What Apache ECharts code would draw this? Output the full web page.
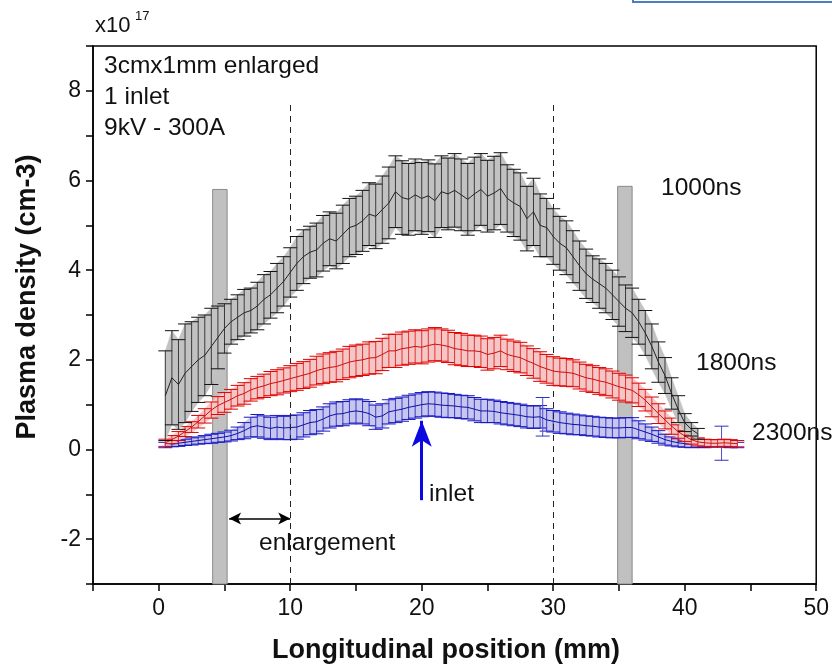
<!DOCTYPE html>
<html>
<head>
<meta charset="utf-8">
<script src="https://cdn.jsdelivr.net/npm/echarts@6/dist/echarts.min.js"></script>
<style>
  html, body { margin: 0; padding: 0; background: #fff; }
  #chart { width: 832px; height: 671px; }
</style>
</head>
<body>
<div id="chart"></div>
<script>
// sample positions (mm), shared by the three curves
var positions = [
  0.5, 1, 1.5, 2, 2.5, 3, 3.5, 4, 4.5, 5, 5.5, 6, 6.5, 7, 7.5, 8, 8.5, 9, 9.5, 10,
  10.5, 11, 11.5, 12, 12.5, 13, 13.5, 14, 14.5, 15, 15.5, 16, 16.5, 17, 17.5, 18, 18.5, 19, 19.5, 20,
  20.5, 21, 21.5, 22, 22.5, 23, 23.5, 24, 24.5, 25, 25.5, 26, 26.5, 27, 27.5, 28, 28.5, 29, 29.5, 30,
  30.5, 31, 31.5, 32, 32.5, 33, 33.5, 34, 34.5, 35, 35.5, 36, 36.5, 37, 37.5, 38, 38.5, 39, 39.5, 40,
  40.5, 41, 41.5, 42, 42.5, 43, 43.5, 44
];

// 1000ns, x1e17 cm-3
var density1000 = [
  1.2, 1.6, 1.45, 1.7, 1.85, 2.0, 2.1, 2.3, 2.5, 2.7, 2.85, 2.95, 3.05, 3.1, 3.2, 3.35, 3.45, 3.6, 3.75, 3.95,
  4.15, 4.3, 4.4, 4.45, 4.6, 4.7, 4.65, 4.8, 4.95, 5.0, 5.1, 5.25, 5.2, 5.35, 5.5, 5.75, 5.62, 5.58, 5.68, 5.6,
  5.66, 5.55, 5.75, 5.7, 5.78, 5.68, 5.58, 5.7, 5.8, 5.65, 5.72, 5.82, 5.6, 5.5, 5.42, 5.15, 5.3, 5.0, 4.95, 4.75,
  4.6, 4.5, 4.3, 4.1, 3.92, 3.8, 3.7, 3.6, 3.45, 3.3, 3.15, 3.05, 2.85, 2.6, 2.3, 1.95, 1.65, 1.25, 0.9, 0.6,
  0.45, 0.35
];
var error1000 = [
  1.0, 1.05, 1.0, 1.1, 1.0, 0.95, 0.9, 0.85, 0.7, 0.55, 0.5, 0.5, 0.52, 0.5, 0.53, 0.55, 0.52, 0.55, 0.55, 0.55,
  0.6, 0.6, 0.58, 0.6, 0.62, 0.6, 0.62, 0.65, 0.65, 0.65, 0.68, 0.7, 0.72, 0.75, 0.8, 0.8, 0.82, 0.8, 0.8, 0.8,
  0.8, 0.82, 0.8, 0.8, 0.82, 0.8, 0.8, 0.82, 0.8, 0.8, 0.82, 0.8, 0.75, 0.75, 0.75, 0.72, 0.75, 0.7, 0.65, 0.62,
  0.6, 0.6, 0.58, 0.55, 0.55, 0.52, 0.55, 0.55, 0.55, 0.55, 0.52, 0.55, 0.5, 0.5, 0.5, 0.45, 0.4, 0.35, 0.3, 0.2,
  0.15, 0.12
];

// 1800ns
var density1800 = [
  0.15, 0.22, 0.3, 0.4, 0.5, 0.62, 0.75, 0.88, 0.98, 1.05, 1.12, 1.2, 1.25, 1.33, 1.38, 1.42, 1.47, 1.5, 1.54, 1.58,
  1.62, 1.66, 1.7, 1.76, 1.8, 1.83, 1.85, 1.9, 1.95, 1.98, 2.0, 2.04, 2.05, 2.12, 2.2, 2.2, 2.25, 2.27, 2.3, 2.28,
  2.32, 2.35, 2.33, 2.3, 2.25, 2.23, 2.2, 2.2, 2.18, 2.12, 2.15, 2.2, 2.12, 2.08, 2.05, 1.98, 1.92, 1.85, 1.8, 1.75,
  1.73, 1.72, 1.7, 1.65, 1.6, 1.57, 1.53, 1.5, 1.45, 1.4, 1.36, 1.32, 1.22, 1.1, 0.95, 0.8, 0.66, 0.52, 0.4, 0.3,
  0.22, 0.17, 0.15, 0.14, 0.14, 0.15, 0.14, 0.13
];
var error1800 = [
  0.08, 0.09, 0.1, 0.11, 0.12, 0.14, 0.16, 0.18, 0.2, 0.22, 0.22, 0.23, 0.24, 0.25, 0.25, 0.26, 0.27, 0.28, 0.28, 0.29,
  0.3, 0.3, 0.31, 0.32, 0.33, 0.33, 0.34, 0.34, 0.35, 0.35, 0.35, 0.36, 0.36, 0.36, 0.37, 0.37, 0.37, 0.37, 0.37, 0.37,
  0.37, 0.37, 0.36, 0.36, 0.36, 0.36, 0.35, 0.35, 0.35, 0.35, 0.35, 0.35, 0.34, 0.34, 0.34, 0.33, 0.33, 0.33, 0.32, 0.32,
  0.31, 0.31, 0.3, 0.3, 0.3, 0.3, 0.3, 0.3, 0.3, 0.3, 0.3, 0.28, 0.26, 0.24, 0.22, 0.22, 0.2, 0.18, 0.15, 0.12,
  0.1, 0.09, 0.08, 0.08, 0.08, 0.08, 0.08, 0.07
];

// 2300ns
var density2300 = [
  0.1, 0.12, 0.14, 0.16, 0.18, 0.2, 0.22, 0.24, 0.26, 0.28, 0.31, 0.36, 0.42, 0.5, 0.53, 0.5, 0.47, 0.5, 0.48, 0.49,
  0.5, 0.55, 0.6, 0.62, 0.68, 0.75, 0.79, 0.8, 0.84, 0.86, 0.84, 0.8, 0.72, 0.75, 0.84, 0.87, 0.9, 0.94, 0.97, 1.0,
  1.02, 1.01, 0.99, 0.98, 0.97, 0.95, 0.94, 0.9, 0.86, 0.86, 0.85, 0.82, 0.8, 0.78, 0.76, 0.73, 0.72, 0.73, 0.66, 0.63,
  0.6, 0.58, 0.56, 0.55, 0.53, 0.52, 0.5, 0.49, 0.48, 0.48, 0.49, 0.49, 0.44, 0.39, 0.34, 0.28, 0.22, 0.18, 0.15, 0.13,
  0.12, 0.12, 0.11, 0.12, 0.14, 0.12, 0.11, 0.1
];
var error2300 = [
  0.06, 0.06, 0.07, 0.07, 0.08, 0.08, 0.09, 0.1, 0.1, 0.11, 0.12, 0.14, 0.18, 0.22, 0.25, 0.25, 0.25, 0.26, 0.26, 0.27,
  0.27, 0.27, 0.27, 0.27, 0.27, 0.27, 0.27, 0.27, 0.27, 0.27, 0.27, 0.27, 0.27, 0.27, 0.27, 0.27, 0.27, 0.27, 0.27, 0.27,
  0.27, 0.27, 0.27, 0.27, 0.26, 0.26, 0.26, 0.26, 0.26, 0.26, 0.25, 0.25, 0.25, 0.25, 0.25, 0.25, 0.25, 0.25, 0.25, 0.24,
  0.24, 0.23, 0.23, 0.22, 0.22, 0.22, 0.22, 0.22, 0.22, 0.22, 0.22, 0.22, 0.2, 0.18, 0.16, 0.14, 0.12, 0.1, 0.09, 0.08,
  0.08, 0.07, 0.07, 0.07, 0.07, 0.07, 0.07, 0.06
];
// two isolated 2300ns points with large error: [position, density, error]
var outliers2300 = [[29.2, 0.73, 0.43], [42.8, 0.14, 0.38]];

var xTickLabels = [0, 10, 20, 30, 40, 50];
var yTickLabels = [-2, 0, 2, 4, 6, 8];

var FONT = '"Liberation Sans", Arial, sans-serif';

function pointData(ys, es) {
  return ys.map(function (y, i) { return [positions[i], y, es[i]]; });
}
function bandData(ys, es) {
  var out = [];
  for (var i = 0; i < ys.length - 1; i++) {
    out.push([positions[i], ys[i], es[i], positions[i + 1], ys[i + 1], es[i + 1]]);
  }
  return out;
}
function meanData(ys) {
  return ys.map(function (y, i) { return [positions[i], y]; });
}

function renderBand(fill) {
  return function (params, api) {
    var x0 = api.value(0), y0 = api.value(1), e0 = api.value(2);
    var x1 = api.value(3), y1 = api.value(4), e1 = api.value(5);
    var pts = [
      api.coord([x0, y0 + e0]), api.coord([x1, y1 + e1]),
      api.coord([x1, y1 - e1]), api.coord([x0, y0 - e0])
    ];
    return { type: 'polygon', shape: { points: pts }, style: { fill: fill, stroke: fill, lineWidth: 0.5 } };
  };
}
function renderBars(stroke, cap) {
  return function (params, api) {
    var x = api.value(0), y = api.value(1), e = api.value(2);
    var t = api.coord([x, y + e]), b = api.coord([x, y - e]);
    var hw = 7;
    return {
      type: 'group',
      children: [
        { type: 'line', shape: { x1: t[0], y1: t[1], x2: b[0], y2: b[1] }, style: { stroke: stroke, lineWidth: 1 } },
        { type: 'line', shape: { x1: t[0] - hw, y1: t[1], x2: t[0] + hw, y2: t[1] }, style: { stroke: cap, lineWidth: 1 } },
        { type: 'line', shape: { x1: b[0] - hw, y1: b[1], x2: b[0] + hw, y2: b[1] }, style: { stroke: cap, lineWidth: 1 } }
      ]
    };
  };
}

function curveSeries(name, ys, es, c) {
  return [
    { name: name + ' band', type: 'custom', z: c.z, silent: true, renderItem: renderBand(c.band),
      encode: { x: [0, 3], y: [1, 4] }, data: bandData(ys, es) },
    { name: name + ' bars', type: 'custom', z: c.z + 1, silent: true, renderItem: renderBars(c.bar, c.cap),
      encode: { x: 0, y: 1 }, data: pointData(ys, es) },
    { name: name, type: 'line', z: c.z + 2, silent: true, showSymbol: false, symbol: 'none',
      lineStyle: { color: c.line, width: 1 }, data: meanData(ys) }
  ];
}

var series = []
  .concat(curveSeries('2300ns', density2300, error2300, { z: 2, band: '#c6c6ef', bar: '#3a3ac8', cap: '#1818c0', line: '#1010a0' }))
  .concat(curveSeries('1800ns', density1800, error1800, { z: 5, band: '#f5c6c6', bar: '#e83030', cap: '#e00000', line: '#c81010' }))
  .concat(curveSeries('1000ns', density1000, error1000, { z: 8, band: '#c2c2c2', bar: '#3a3a3a', cap: '#111111', line: '#222222' }));

series.push({
  name: '2300ns outliers', type: 'custom', z: 4, silent: true, renderItem: renderBars('#5050d0', '#3030c8'),
  encode: { x: 0, y: 1 }, data: outliers2300
});

// electrodes, guide lines, arrows
series.push({
  name: 'annotations', type: 'scatter', z: 20, silent: true, symbolSize: 0,
  data: [[-10, -10]],
  markArea: {
    silent: true,
    itemStyle: { color: '#c0c0c0', opacity: 1, borderColor: '#8a8a8a', borderWidth: 1 },
    label: { show: false },
    data: [
      [{ coord: [4.1, -3] }, { coord: [5.2, 5.8] }],
      [{ coord: [34.9, -3] }, { coord: [36.0, 5.87] }]
    ]
  },
  markLine: {
    silent: true,
    animation: false,
    label: { show: false },
    symbol: 'none',
    data: [
      [{ coord: [10, -3], lineStyle: { color: '#222', width: 1, type: [6, 5] } }, { coord: [10, 7.75] }],
      [{ coord: [30, -3], lineStyle: { color: '#222', width: 1, type: [6, 5] } }, { coord: [30, 7.75] }],
      [{ coord: [20, -1.13], symbol: 'none', lineStyle: { color: '#0a0ae0', width: 3, type: 'solid' } },
       { coord: [20, 0.64], symbol: 'arrow', symbolSize: [15, 26] }],
      [{ coord: [5.35, -1.54], symbol: 'arrow', symbolSize: [9, 12], lineStyle: { color: '#000', width: 1.5, type: 'solid' } },
       { coord: [10.0, -1.54], symbol: 'arrow', symbolSize: [9, 12] }]
    ]
  }
});

function textEl(str, x, y, size) {
  return { type: 'text', x: x, y: y, z: 30, silent: true,
    style: { text: str, font: size + 'px ' + FONT, fill: '#111', verticalAlign: 'middle' } };
}

var chart = echarts.init(document.getElementById('chart'), null, { renderer: 'canvas' });
chart.setOption({
  animation: false,
  backgroundColor: '#fff',
  grid: { left: 93, right: 15, top: 46, bottom: 87, show: true, borderColor: '#000', borderWidth: 1.5 },
  xAxis: {
    type: 'value', min: -5, max: 50, interval: 5,
    axisLine: { show: true, onZero: false, lineStyle: { color: '#000', width: 1.5 } },
    axisTick: { show: true, inside: false, length: 7, lineStyle: { color: '#000', width: 1.5 } },
    axisLabel: { fontFamily: FONT, fontSize: 23, color: '#111', margin: 13,
      formatter: function (v) { return xTickLabels.indexOf(v) >= 0 ? String(v) : ''; } },
    splitLine: { show: false }
  },
  yAxis: {
    type: 'value', min: -3, max: 9, interval: 1,
    axisLine: { show: true, onZero: false, lineStyle: { color: '#000', width: 1.5 } },
    axisTick: { show: true, inside: false, length: 7, lineStyle: { color: '#000', width: 1.5 } },
    axisLabel: { fontFamily: FONT, fontSize: 23, color: '#111', margin: 12,
      formatter: function (v) { return yTickLabels.indexOf(v) >= 0 ? String(v) : ''; } },
    splitLine: { show: false }
  },
  series: series,
  graphic: [
    { type: 'text', x: 446, y: 651, z: 30, silent: true,
      style: { text: 'Longitudinal position (mm)', font: 'bold 27px ' + FONT, fill: '#111', align: 'center', verticalAlign: 'middle' } },
    { type: 'text', x: 28, y: 297, z: 30, silent: true, rotation: Math.PI / 2,
      style: { text: 'Plasma density (cm-3)', font: 'bold 27px ' + FONT, fill: '#111', align: 'center', verticalAlign: 'middle' } },
    textEl('x10', 95, 26, 22),
    { type: 'text', x: 135, y: 16, z: 30, silent: true,
      style: { text: '17', font: '13px ' + FONT, fill: '#111', verticalAlign: 'middle' } },
    textEl('3cmx1mm enlarged', 104, 66, 24.5),
    textEl('1 inlet', 104, 97, 24.5),
    textEl('9kV - 300A', 104, 128, 24.5),
    textEl('1000ns', 661, 188, 24.5),
    textEl('1800ns', 696, 363, 24.5),
    textEl('2300ns', 752, 433, 24.5),
    textEl('enlargement', 259, 543, 24.5),
    textEl('inlet', 429, 494, 24.5),
    { type: 'rect', z: 30, silent: true, shape: { x: 633, y: -10, width: 210, height: 12 },
      style: { fill: 'none', stroke: '#4a7fc4', lineWidth: 2 } }
  ]
});
</script>
</body>
</html>
